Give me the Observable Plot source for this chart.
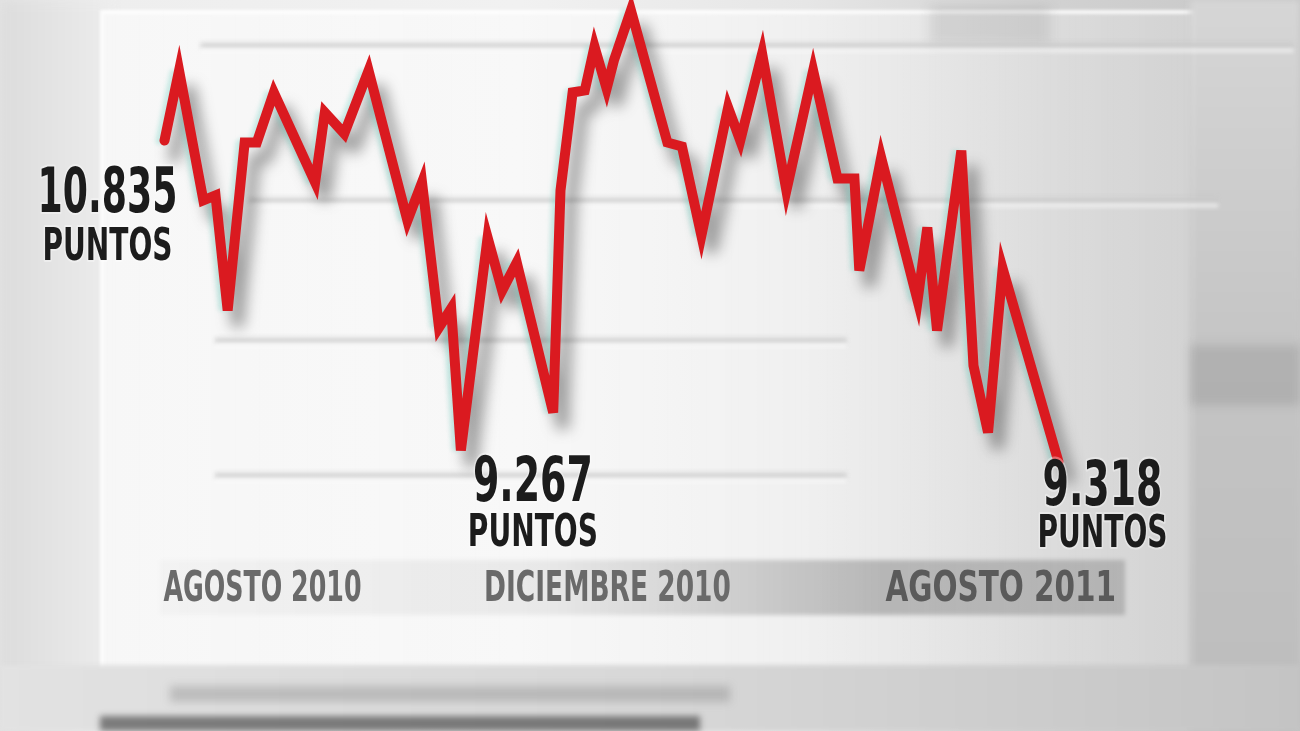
<!DOCTYPE html>
<html>
<head>
<meta charset="utf-8">
<script src="https://cdn.jsdelivr.net/npm/d3@7"></script>
<script src="https://cdn.jsdelivr.net/npm/@observablehq/plot@0.6"></script>
<style>
  html, body { margin: 0; padding: 0; background: #e8e8e8; }
  #wrap { position: relative; width: 1300px; height: 731px; overflow: hidden;
    background: linear-gradient(to right, #e4e4e4 0%, #eeeeee 8%, #f1f1f1 40%, #e6e6e6 62%, #d2d2d2 80%, #c6c6c6 100%); }
  .deco { position: absolute; }
  #chart { position: absolute; left: 0; top: 0; }
</style>
</head>
<body>
<div id="wrap">
  <div class="deco" style="left:0;top:0;width:110px;height:731px;background:linear-gradient(to right,#dcdcdc,#ececec);filter:blur(6px)"></div>
  <div class="deco" style="left:100px;top:10px;width:1090px;height:655px;background:linear-gradient(to right,rgba(255,255,255,0.55),rgba(255,255,255,0.45) 55%,rgba(255,255,255,0.15));border:4px solid rgba(255,255,255,0.8);filter:blur(1.5px)"></div>
  <div class="deco" style="left:1190px;top:0;width:110px;height:731px;background:linear-gradient(to bottom,#d6d6d6,#c4c4c4 50%,#bdbdbd);filter:blur(3px)"></div>
  <div class="deco" style="left:930px;top:5px;width:120px;height:40px;background:rgba(150,150,150,0.25);filter:blur(6px)"></div>
  <div class="deco" style="left:1190px;top:345px;width:110px;height:60px;background:rgba(120,120,120,0.25);filter:blur(5px)"></div>
  <div class="deco" style="left:160px;top:560px;width:965px;height:55px;background:linear-gradient(to right,rgba(0,0,0,0.02),rgba(0,0,0,0.06) 40%,rgba(0,0,0,0.22) 75%,rgba(0,0,0,0.16));filter:blur(2px)"></div>
  <div class="deco" style="left:0;top:665px;width:1300px;height:66px;background:linear-gradient(to right,#e2e2e2,#d8d8d8 50%,#c4c4c4);filter:blur(2px)"></div>
  <div class="deco" style="left:170px;top:686px;width:560px;height:16px;background:rgba(110,110,110,0.3);filter:blur(4px)"></div>
  <div class="deco" style="left:100px;top:716px;width:600px;height:15px;background:rgba(40,40,40,0.55);filter:blur(3px)"></div>
  <div id="chart"></div>
</div>
<script>
// ---- data ----
const startDate = "2010-08-02";
// days since start date for each turning point of the line
const days = [0,6,16,21,26,33,38,45,62,66,74,84,100,106,113,118,122,133,139,145,160,163,168,173,177,182,185,192,207,213,221,232,237,246,256,267,277,284,286,295,310,314,318,328,333,339,345,368];
// index level (points) at each turning point
const puntos = [10835,11189,10532,10557,9975,10825,10825,11078,10623,10977,10870,11189,10430,10623,9889,9985,9267,10344,10076,10218,9459,10582,11078,11088,11310,11098,11240,11493,10825,10805,10354,11002,10835,11275,10582,11189,10643,10643,10177,10749,10026,10395,9874,10784,9697,9358,10188,9210];

// annotated points
const labelText = ["10.835", "9.267", "9.318"];
const labelIndex = [0, 16, 47];
const unitText = "PUNTOS";

// period labels
const periodText = ["AGOSTO 2010", "DICIEMBRE 2010", "AGOSTO 2011"];
const periodDate = ["2010-08-02", "2010-12-01", "2011-08-01"];

// faint background grid
const gridValue = [11315, 10532, 9823, 9141];
const gridStart = ["2010-08-17", "2010-09-06", "2010-08-23", "2010-08-23"];
const gridEnd = ["2011-11-10", "2011-10-10", "2011-05-10", "2011-05-10"];

// ---- build tables ----
const day0 = new Date(startDate + "T00:00:00Z");
const addDays = n => new Date(day0.getTime() + n * 86400000);
const series = days.map((d, i) => ({date: addDays(d), value: puntos[i]}));
const labels = labelText.map((t, i) => ({...series[labelIndex[i]], text: t}));
const periods = periodText.map((t, i) => ({date: new Date(periodDate[i] + "T00:00:00Z"), text: t}));
const grid = gridValue.map((v, i) => ({value: v, x1: new Date(gridStart[i] + "T00:00:00Z"), x2: new Date(gridEnd[i] + "T00:00:00Z")}));

const FONT = "'Liberation Sans Narrow', 'DejaVu Sans Condensed', 'Roboto', sans-serif";

const labelMarks = [];
const dxs = [-57, 72, 44];
const dyNum = [71, 50, 43];
const dyUnit = [119, 95, 85];
labels.forEach((l, i) => {
  labelMarks.push(Plot.text([l], {x: "date", y: "value", text: "text", dx: dxs[i], dy: dyNum[i],
    textAnchor: "middle", lineAnchor: "middle", fontSize: 62, fontWeight: "bold", fontFamily: FONT,
    fill: "#1c1c1c", stroke: "#ffffff", strokeOpacity: 0.35, strokeWidth: 4}));
  labelMarks.push(Plot.text([l], {x: "date", y: "value", text: () => unitText, dx: dxs[i], dy: dyUnit[i],
    textAnchor: "middle", lineAnchor: "middle", fontSize: 44, fontWeight: "bold", fontFamily: FONT,
    fill: "#1c1c1c", stroke: "#ffffff", strokeOpacity: 0.35, strokeWidth: 4}));
});

const periodDx = [98, 149, -48];
const periodMarks = periods.map((p, i) => Plot.text([p], {x: "date", text: "text", frameAnchor: "top",
  dx: periodDx[i], dy: 600, textAnchor: "middle", lineAnchor: "middle", fontSize: 42, fontWeight: "bold",
  fontFamily: FONT, fill: i === 2 ? "#5a5a5a" : "#6a6a6a"}));

const chart = Plot.plot({
  width: 1300, height: 731, margin: 0,
  x: {type: "utc", domain: [addDays(0), addDays(368)], range: [164, 1058], axis: null},
  y: {type: "linear", domain: [9267, 10835], range: [450, 140], axis: null},
  style: {background: "transparent", overflow: "visible"},
  marks: [
    Plot.ruleY(grid, {y: "value", x1: "x1", x2: "x2", stroke: "#c9c9c9", strokeWidth: 6, strokeOpacity: 0.7}),
    Plot.ruleY(grid, {y: "value", x1: "x1", x2: "x2", stroke: "#ffffff", strokeWidth: 3, strokeOpacity: 0.8, dy: 5}),
    Plot.line(series, {x: "date", y: "value", stroke: "#3a3a3a", strokeWidth: 13, strokeOpacity: 0.45, dx: 10, dy: 16, strokeLinejoin: "miter"}),
    Plot.line(series, {x: "date", y: "value", stroke: "#6fd0c4", strokeWidth: 8, strokeOpacity: 0.35, dx: -5, dy: 0, strokeLinejoin: "miter"}),
    Plot.line(series, {x: "date", y: "value", stroke: "#da1a20", strokeWidth: 10, strokeLinejoin: "miter", strokeMiterlimit: 6}),
    ...labelMarks,
    ...periodMarks
  ]
});
document.getElementById("chart").appendChild(chart);

// post-styling: blur the shadow and grid, condense the lettering
const svg = d3.select(chart);
const lineGroups = svg.selectAll('g[aria-label="line"]').nodes();
d3.select(lineGroups[0]).style("filter", "blur(7px)");
d3.select(lineGroups[1]).style("filter", "blur(2px)");
d3.select(lineGroups[2]).style("filter", "blur(0.6px)");
svg.selectAll('g[aria-label="rule"]').style("filter", "blur(2px)");
const textGroups = svg.selectAll('g[aria-label="text"]').nodes();
const scales = [0.65, 0.71, 0.68, 0.71, 0.68, 0.71, 0.67, 0.7, 0.78];
textGroups.forEach((g, i) => {
  d3.select(g).style("filter", "blur(0.7px)");
  d3.select(g).selectAll("text").each(function() {
    const t = d3.select(this);
    const x = +t.attr("x") || 0, y = +t.attr("y") || 0;
    const tr = t.attr("transform") || "";
    t.attr("x", null).attr("y", null).attr("transform", `${tr} translate(${x},${y}) scale(${scales[i]},1)`);
  });
});
</script>
</body>
</html>
